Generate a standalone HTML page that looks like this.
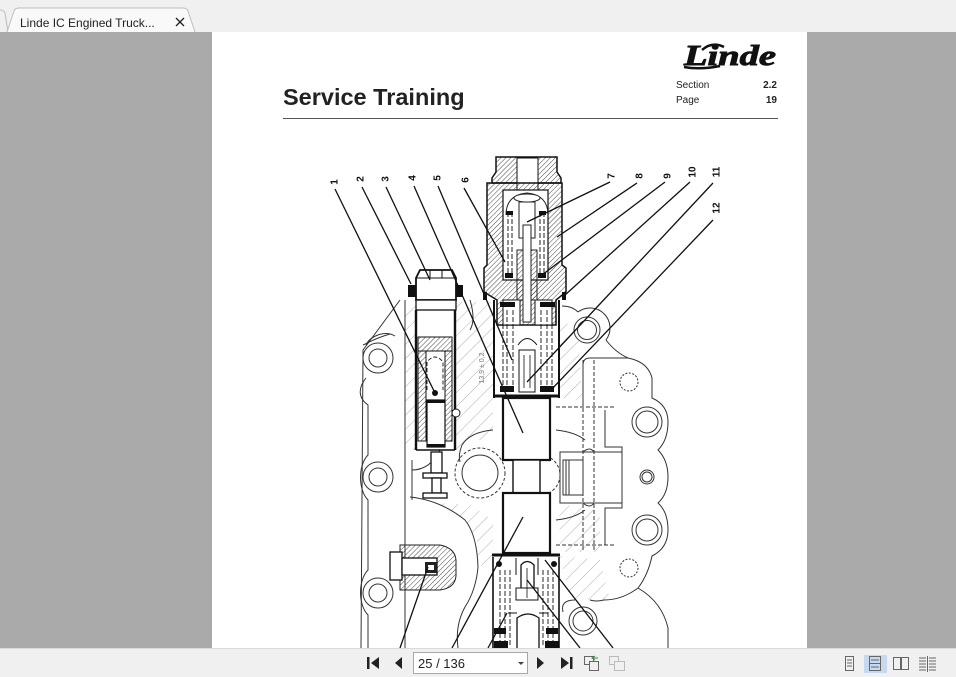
<!DOCTYPE html>
<html><head><meta charset="utf-8"><style>
html,body{margin:0;padding:0;width:956px;height:677px;overflow:hidden;background:#aaaaaa;font-family:"Liberation Sans",sans-serif;}
svg{position:absolute;left:0;top:0;}
</style></head><body>
<svg width="956" height="677" viewBox="0 0 956 677" xmlns="http://www.w3.org/2000/svg">
<defs>
<pattern id="h" width="3.5" height="3.5" patternUnits="userSpaceOnUse" patternTransform="rotate(45)"><line x1="0" y1="0" x2="0" y2="3.5" stroke="#333" stroke-width="0.9"/></pattern>
<pattern id="h2" width="10" height="10" patternUnits="userSpaceOnUse" patternTransform="rotate(45)"><line x1="0" y1="0" x2="0" y2="10" stroke="#999" stroke-width="0.8"/></pattern>
</defs>

<!-- top tab bar -->
<rect x="0" y="0" width="956" height="32" fill="#f0f0f0"/>
<path d="M0,10 Q4,10 5,13 L8,32" fill="none" stroke="#bdbdbd"/>
<path d="M7,32 L14,11 Q15,8 19,8 L183,8 Q187,8 188,11 L195,32" fill="#f9f9f9" stroke="#bdbdbd"/>
<text x="20" y="27" font-size="12" fill="#222">Linde IC Engined Truck...</text>
<path d="M176,18 L184,26 M184,18 L176,26" stroke="#222" stroke-width="1.3"/>

<!-- viewer -->
<rect x="0" y="32" width="956" height="616" fill="#aaaaaa"/>
<rect x="212" y="32" width="595" height="616" fill="#ffffff"/>

<!-- header -->
<text x="283" y="105" font-size="23.5" font-weight="bold" fill="#222">Service Training</text>
<line x1="283" y1="118.5" x2="778" y2="118.5" stroke="#555" stroke-width="1"/>
<text x="676" y="88" font-size="10" fill="#222">Section</text>
<text x="777" y="88" font-size="10" font-weight="bold" fill="#222" text-anchor="end">2.2</text>
<text x="676" y="103" font-size="10" fill="#222">Page</text>
<text x="777" y="103" font-size="10" font-weight="bold" fill="#222" text-anchor="end">19</text>
<text x="684" y="65" font-family="Liberation Serif, serif" font-style="italic" font-weight="bold" font-size="29" fill="#111" stroke="#111" stroke-width="0.9" textLength="92" lengthAdjust="spacingAndGlyphs">Linde</text>
<path d="M684,67 Q700,70 720,66" stroke="#111" stroke-width="2.5" fill="none"/>
<path d="M702,50 Q712,41 724,47" stroke="#111" stroke-width="2.5" fill="none"/>

<!-- ================= DIAGRAM ================= -->
<!-- light hatch regions -->
<polygon points="456,302 493,302 493,440 474,440 456,456" fill="url(#h2)"/>
<polygon points="405,305 416,305 416,450 405,450" fill="url(#h2)"/>
<polygon points="558,318 578,330 582,400 558,398" fill="url(#h2)"/>
<polygon points="558,450 560,552 600,552 600,510 560,505" fill="url(#h2)"/>
<polygon points="438,503 465,520 477,540 478,567 493,560 493,520 470,505" fill="url(#h2)"/>
<polygon points="560,556 600,560 610,600 570,600" fill="url(#h2)"/>

<g stroke="#333" stroke-width="1" fill="none">
<!-- housing left -->
<path d="M400,300 L363,350 L361,648"/>
<path d="M363,345 C374,340 376,338 390,334"/>
<path d="M405,300 L405,648"/>
<path d="M366,378 C358,388 358,398 368,405 L368,455 C358,465 358,490 368,500 L368,570 C358,580 358,605 368,615 L368,648"/>
<circle cx="378" cy="358" r="15"/><circle cx="378" cy="358" r="9"/>
<circle cx="378" cy="477" r="15"/><circle cx="378" cy="477" r="9"/>
<circle cx="378" cy="593" r="15"/><circle cx="378" cy="593" r="9"/>
<path d="M395,336 C385,330 370,336 366,345"/>
<path d="M410,497 Q440,500 465,520 Q477,535 478,567 Q476,590 465,607 Q455,625 458,648"/>
<path d="M412,460 L412,500"/>
<!-- housing right -->
<path d="M562,306 Q572,306 578,312"/>
<circle cx="587" cy="330" r="13"/><circle cx="587" cy="330" r="9.5"/>
<path d="M578,312 A20,20 0 0 1 606,340 Q615,352 628,358 Q648,362 652,378 L652,398 Q668,405 668,422 Q668,440 658,450 Q668,460 668,477 Q668,494 658,503 Q668,512 668,530 Q668,548 652,556 Q648,575 638,588 Q662,602 668,628 L668,648"/>
<path d="M638,588 Q622,600 604,600 Q596,602 590,600"/>
<path d="M583,405 L583,365 Q583,358 590,358 L628,358"/>
<circle cx="647" cy="422" r="15"/><circle cx="647" cy="422" r="11"/>
<circle cx="647" cy="530" r="15"/><circle cx="647" cy="530" r="11"/>
<circle cx="647" cy="477" r="7"/><circle cx="647" cy="477" r="5"/>
<circle cx="629" cy="382" r="9" stroke-dasharray="2,1.5"/>
<circle cx="629" cy="568" r="9" stroke-dasharray="2,1.5"/>
<circle cx="583" cy="621" r="14"/><circle cx="583" cy="621" r="10"/>
<path d="M563,612 Q560,600 575,600"/>
<path d="M556,407 L615,407 M556,545 L615,545" stroke-dasharray="4,2"/>
<path d="M583,360 L583,550 M594,360 L594,550" stroke-dasharray="4,2"/>
<path d="M605,410 L605,447 L622,447 L622,508 L605,508 L605,545"/>
<rect x="560" y="452" width="62" height="51"/>
<rect x="563" y="460" width="20" height="35"/>
<path d="M566,460 L566,495 M569,460 L569,495"/>
<path d="M583,452 Q590,446 594,452 M583,503 Q590,509 594,503"/>
<!-- center bore contour -->
<path d="M493,430 Q470,432 462,445 Q458,455 460,462"/>
<path d="M556,430 Q575,432 585,440 M556,520 Q575,518 585,510"/>
<circle cx="480" cy="473" r="25" stroke-dasharray="3,2"/>
<circle cx="480" cy="473" r="18"/>
<circle cx="540" cy="475" r="20" stroke-dasharray="3,2"/>
<path d="M440,450 Q430,470 412,470 M470,300 Q476,320 470,330"/>
</g>

<!-- top pilot valve -->
<g stroke="#111" stroke-width="1.5">
<polygon points="496,157 557,157 557,172 561,178 561,183 492,183 492,178 496,172" fill="url(#h)"/>
<rect x="517" y="158" width="21" height="33" fill="#fff" stroke-width="1"/>
<polygon points="487,183 562,183 562,265 566,268 566,292 556,300 556,325 497,325 497,300 484,292 484,268 487,265" fill="url(#h)"/>
<rect x="503" y="190" width="45" height="90" fill="#fff" stroke-width="1.2"/>
<polygon points="503,300 520,300 520,325 503,325" fill="#fff" stroke-width="1"/>
<polygon points="535,300 552,300 552,325 535,325" fill="#fff" stroke-width="1"/>
</g>
<g stroke="#222" stroke-width="1" fill="none">
<path d="M506,215 Q506,195 527,193 Q548,195 548,215"/>
<path d="M508,212 L508,278 M512,212 L512,278 M540,212 L540,278 M544,212 L544,278" stroke-dasharray="5,2"/>
<ellipse cx="527" cy="198" rx="13" ry="4" fill="#fff"/>
<rect x="519" y="202" width="16" height="36" fill="#fff"/>
<rect x="517" y="250" width="20" height="50" fill="url(#h)"/>
<rect x="523" y="225" width="8" height="97" fill="#fff"/>
</g>
<g fill="#111">
<rect x="506" y="211" width="7" height="4"/><rect x="539" y="211" width="7" height="4"/>
<rect x="505" y="273" width="8" height="5"/><rect x="538" y="273" width="8" height="5"/>
<rect x="500" y="302" width="15" height="5"/><rect x="540" y="302" width="15" height="5"/>
<rect x="483" y="292" width="4" height="8"/><rect x="562" y="292" width="4" height="8"/>
</g>

<!-- spool housing -->
<g stroke="#111" fill="none">
<path d="M494,300 L494,398 M559,300 L559,398" stroke-width="2"/>
<path d="M503,310 L503,390 M507,310 L507,390 M513,310 L513,390 M541,310 L541,390 M547,310 L547,390 M552,310 L552,390" stroke-dasharray="5,2" stroke-width="0.9"/>
<path d="M518,345 Q527,332 537,345" stroke-width="0.9"/>
<rect x="519" y="350" width="16" height="42" fill="#fff" stroke-width="1"/>
<path d="M524,355 L524,388 M530,355 L530,388" stroke-width="0.8"/>
<path d="M493,396 L558,396" stroke-width="3"/>
</g>
<g fill="#111">
<rect x="500" y="386" width="14" height="6"/><rect x="540" y="386" width="14" height="6"/>
</g>
<!-- spool blocks -->
<g stroke="#111" fill="#fff">
<rect x="503" y="398" width="47" height="62" stroke-width="2.2"/>
<rect x="513" y="460" width="27" height="33" stroke-width="1.4"/>
<rect x="503" y="493" width="47" height="60" stroke-width="2.2"/>
</g>
<path d="M492,555 L560,555" stroke="#111" stroke-width="3"/>
<!-- bottom valve -->
<g stroke="#111" fill="none">
<path d="M493,557 L493,648 M559,557 L559,648" stroke-width="1.6"/>
<path d="M500,570 L500,645 M505,570 L505,645 M510,570 L510,645 M543,570 L543,645 M548,570 L548,645 M553,570 L553,645" stroke-dasharray="5,2" stroke-width="0.9"/>
<path d="M516,558 L516,575 M538,558 L538,575" stroke-width="1"/>
<path d="M521,600 L521,565 Q527,558 534,565 L534,600" fill="#fff" stroke-width="1.3"/>
<rect x="516" y="588" width="22" height="12" fill="#fff" stroke-width="1"/>
<path d="M527,568 L527,598" stroke-width="0.8"/>
<path d="M517,648 L517,618 Q528,610 539,618 L539,648" stroke-width="1.3"/>
<path d="M508,613 L517,613 M539,613 L548,613" stroke-width="1"/>
</g>
<g fill="#111">
<circle cx="499" cy="564" r="3"/><circle cx="554" cy="564" r="3"/>
<rect x="494" y="628" width="12" height="6"/><rect x="546" y="628" width="12" height="6"/>
<rect x="494" y="641" width="14" height="7"/><rect x="545" y="641" width="14" height="7"/>
</g>

<!-- left valve -->
<g stroke="#111" fill="#fff">
<polygon points="420,270 452,270 456,278 456,300 416,300 416,278" stroke-width="1.8"/>
<path d="M430,270 L430,278 M442,270 L442,278 M416,278 L456,278" stroke-width="1" fill="none"/>
<rect x="416" y="300" width="40" height="10" stroke-width="1.3"/>
<rect x="418" y="337" width="34" height="14" fill="url(#h)" stroke-width="1"/>
<rect x="418" y="351" width="8" height="90" fill="url(#h)" stroke-width="1"/>
<rect x="445" y="351" width="7" height="90" fill="url(#h)" stroke-width="1"/>
<path d="M427,390 L427,362 Q435,352 443,362 L443,390" fill="none" stroke-dasharray="4,2" stroke-width="0.9"/>
<rect x="427" y="400" width="18" height="47" stroke-width="1.2"/>
<path d="M416,310 L416,450 M455,310 L455,450" stroke-width="2.4" fill="none"/>
<path d="M416,450 L455,450" stroke-width="1.5"/>
<rect x="431" y="452" width="11" height="21" stroke-width="1.3"/>
<rect x="423" y="473" width="24" height="5" stroke-width="1.3"/>
<rect x="432" y="478" width="9" height="15" stroke-width="1.3"/>
<rect x="423" y="493" width="24" height="5" stroke-width="1.3"/>
<circle cx="456" cy="413" r="4" stroke-width="1"/>
</g>
<g fill="#111">
<rect x="408" y="285" width="8" height="12"/><rect x="456" y="285" width="7" height="12"/>
<rect x="427" y="400" width="18" height="3"/><rect x="427" y="444" width="18" height="3"/>
<circle cx="435" cy="393" r="3"/>
</g>

<!-- left small screw -->
<path d="M400,545 L440,545 Q455,548 456,560 L456,576 Q455,588 440,590 L400,590 Z" fill="url(#h)" stroke="#222"/>
<rect x="390" y="552" width="12" height="28" fill="#fff" stroke="#111" stroke-width="1.3"/>
<rect x="402" y="558" width="35" height="17" fill="#fff" stroke="#111" stroke-width="1.3"/>
<rect x="425" y="562" width="12" height="11" fill="#222"/>
<rect x="428" y="565" width="6" height="5" fill="#fff"/>

<text transform="translate(484,368) rotate(-90)" font-size="7" fill="#777" text-anchor="middle">13,9 ± 0,2</text>

<!-- leader lines -->
<g stroke="#111" stroke-width="1.3">
<line x1="335" y1="189" x2="435" y2="393"/>
<line x1="362" y1="187" x2="411" y2="284"/>
<line x1="386" y1="187" x2="430" y2="280"/>
<line x1="414" y1="186" x2="523" y2="433"/>
<line x1="438" y1="186" x2="512" y2="360"/>
<line x1="464" y1="188" x2="505" y2="262"/>
<line x1="610" y1="182" x2="527" y2="222"/>
<line x1="637" y1="183" x2="557" y2="237"/>
<line x1="665" y1="182" x2="542" y2="275"/>
<line x1="690" y1="182" x2="565" y2="295"/>
<line x1="713" y1="183" x2="527" y2="382"/>
<line x1="713" y1="220" x2="550" y2="391"/>
<line x1="400" y1="648" x2="428" y2="567"/>
<line x1="452" y1="648" x2="523" y2="517"/>
<line x1="488" y1="648" x2="507" y2="613"/>
<line x1="580" y1="648" x2="527" y2="580"/>
<line x1="613" y1="648" x2="545" y2="560"/>
</g>
<g font-size="10" font-weight="bold" fill="#111" text-anchor="middle">
<text transform="translate(334,182) rotate(-90)" dy="3.5">1</text>
<text transform="translate(360,179) rotate(-90)" dy="3.5">2</text>
<text transform="translate(385,179) rotate(-90)" dy="3.5">3</text>
<text transform="translate(412,178) rotate(-90)" dy="3.5">4</text>
<text transform="translate(437,178) rotate(-90)" dy="3.5">5</text>
<text transform="translate(465,180) rotate(-90)" dy="3.5">6</text>
<text transform="translate(611,176) rotate(-90)" dy="3.5">7</text>
<text transform="translate(639,176) rotate(-90)" dy="3.5">8</text>
<text transform="translate(667,176) rotate(-90)" dy="3.5">9</text>
<text transform="translate(692,172) rotate(-90)" dy="3.5">10</text>
<text transform="translate(716,172) rotate(-90)" dy="3.5">11</text>
<text transform="translate(716,208) rotate(-90)" dy="3.5">12</text>
</g>

<!-- bottom toolbar -->
<rect x="0" y="648" width="956" height="29" fill="#f0f0f0"/>
<line x1="0" y1="648.5" x2="956" y2="648.5" stroke="#dadada"/>
<g fill="#222">
<rect x="367" y="657" width="2.5" height="12"/>
<polygon points="379,657 371,663 379,669"/>
<polygon points="402,657 395,663 402,669"/>
<polygon points="537,657 544,663 537,669"/>
<polygon points="561,657 569,663 561,669"/>
<rect x="570" y="657" width="2.5" height="12"/>
</g>
<rect x="413.5" y="652.5" width="114" height="21" fill="#fff" stroke="#a8a8a8"/>
<text x="418" y="668" font-size="13" fill="#222">25 / 136</text>
<polygon points="518,662 524,662 521,665" fill="#444"/>
<g fill="none" stroke="#666">
<rect x="584.5" y="656.5" width="9" height="8"/>
<rect x="589.5" y="661.5" width="9" height="9" fill="#f0f0f0"/>
<path d="M592,658 L598,658 M595,656 L592,658 L595,660" stroke="#3a8a3a"/>
<rect x="609.5" y="656.5" width="9" height="8" stroke="#bbb"/>
<rect x="614.5" y="661.5" width="10" height="9" stroke="#bbb" fill="#f0f0f0"/>
</g>
<rect x="864" y="655" width="23" height="18" fill="#c5d9f1"/>
<g fill="none" stroke="#666">
<rect x="845.5" y="656.5" width="8" height="14"/>
<path d="M847,660 L852,660 M847,663 L852,663 M847,666 L852,666"/>
<rect x="869.5" y="656.5" width="11" height="14"/>
<path d="M869,663.5 L881,663.5 M871,660 L879,660 M871,667 L879,667"/>
<rect x="893.5" y="657.5" width="7" height="12"/><rect x="901.5" y="657.5" width="7" height="12"/>
<path d="M919,658 L926,658 M919,661 L926,661 M919,664 L926,664 M919,667 L926,667 M919,670 L926,670 M929,658 L936,658 M929,661 L936,661 M929,664 L936,664 M929,667 L936,667 M929,670 L936,670 M927.5,656 L927.5,672"/>
</g>
</svg>
</body></html>
